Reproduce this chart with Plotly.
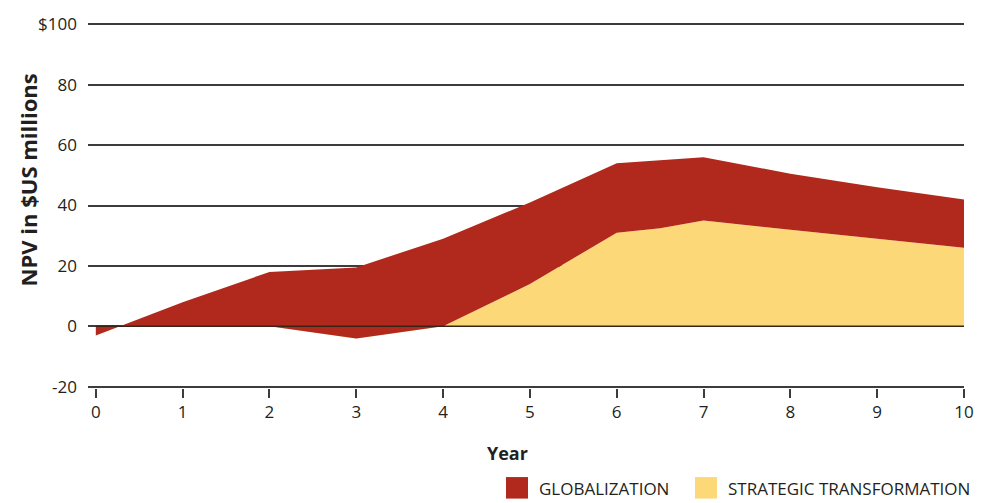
import plotly.graph_objects as go

# NPV by year, $US millions
years = [0, 1, 2, 3, 4, 5, 6, 6.5, 7, 8, 9, 10]
globalization = [-3, 8, 18, 19.5, 29, 41, 54, 55, 56, 50.5, 46, 42]
strategic_transformation = [0, 0, 0, -4, 0, 14, 31, 32.5, 35, 32, 29, 26]

y_ticks = [-20, 0, 20, 40, 60, 80, 100]
y_tick_labels = ["-20", "0", "20", "40", "60", "80", "$100"]
x_ticks = list(range(0, 11))

RED = "#B0291C"
YELLOW = "#FCD878"
GRID = "#3c3c3c"
TEXT = "#231f20"
FONT = "Open Sans"

# a small pad keeps the -20 and $100 gridlines inside the plotting area
Y_MIN, Y_MAX, PAD = -20, 100, 0.4
fig = go.Figure()

# yellow band from zero up to the strategic transformation curve
fig.add_trace(go.Scatter(
    x=years, y=strategic_transformation, mode="lines",
    line=dict(width=0), fill="tozeroy", fillcolor=YELLOW,
    name="STRATEGIC TRANSFORMATION", showlegend=False, hoverinfo="skip",
))
# red band between the strategic transformation curve and globalization
fig.add_trace(go.Scatter(
    x=years, y=globalization, mode="lines",
    line=dict(width=0), fill="tonexty", fillcolor=RED,
    name="GLOBALIZATION", showlegend=False, hoverinfo="skip",
))

# zero line drawn over the areas
fig.add_shape(type="line", xref="x", yref="y", x0=0, x1=10, y0=0, y1=0,
              line=dict(color="#3a2418", width=1.5), layer="above")

fig.update_xaxes(
    range=[-0.09, 10.0], tickvals=x_ticks, ticktext=[str(t) for t in x_ticks],
    showgrid=False, zeroline=False, showline=False,
    ticks="outside", ticklen=9, tickwidth=1.5, tickcolor=GRID,
    tickfont=dict(family=FONT, size=17, color=TEXT),
)
fig.update_yaxes(
    range=[Y_MIN - PAD, Y_MAX + PAD], tickvals=y_ticks, ticktext=y_tick_labels,
    showgrid=True, gridcolor=GRID, gridwidth=1.5, zeroline=False,
    showline=False, ticks="", ticklabelstandoff=10,
    tickfont=dict(family=FONT, size=17, color=TEXT),
)

annotations = [
    dict(text="<b>NPV in $US millions</b>", xref="paper", yref="paper",
         x=-0.068, y=0.57, textangle=-90, showarrow=False,
         xanchor="center", yanchor="middle",
         font=dict(family=FONT, size=22, color=TEXT)),
    dict(text="<b>Year</b>", xref="paper", yref="paper",
         x=0.479, y=-0.177, showarrow=False, xanchor="center", yanchor="middle",
         font=dict(family=FONT, size=18, color=TEXT)),
]

# legend swatches and labels below the plot
legend_items = [("GLOBALIZATION", RED, 506), ("STRATEGIC TRANSFORMATION", YELLOW, 695)]
plot_left, plot_width = 88, 876
for label, color, px in legend_items:
    x0 = (px - plot_left) / plot_width
    x1 = (px + 22 - plot_left) / plot_width
    fig.add_shape(type="rect", xref="paper", yref="paper",
                  x0=x0, x1=x1, y0=-0.303, y1=-0.244,
                  fillcolor=color, line=dict(width=0))
    annotations.append(dict(
        text=label, xref="paper", yref="paper",
        x=(px + 31 - plot_left) / plot_width, y=-0.274,
        showarrow=False, xanchor="left", yanchor="middle",
        font=dict(family=FONT, size=17, color=TEXT),
    ))

fig.update_layout(
    width=991, height=503,
    margin=dict(l=88, r=27, t=13, b=115),
    paper_bgcolor="white", plot_bgcolor="white",
    annotations=annotations,
    showlegend=False,
)

fig.write_html("out.html")
